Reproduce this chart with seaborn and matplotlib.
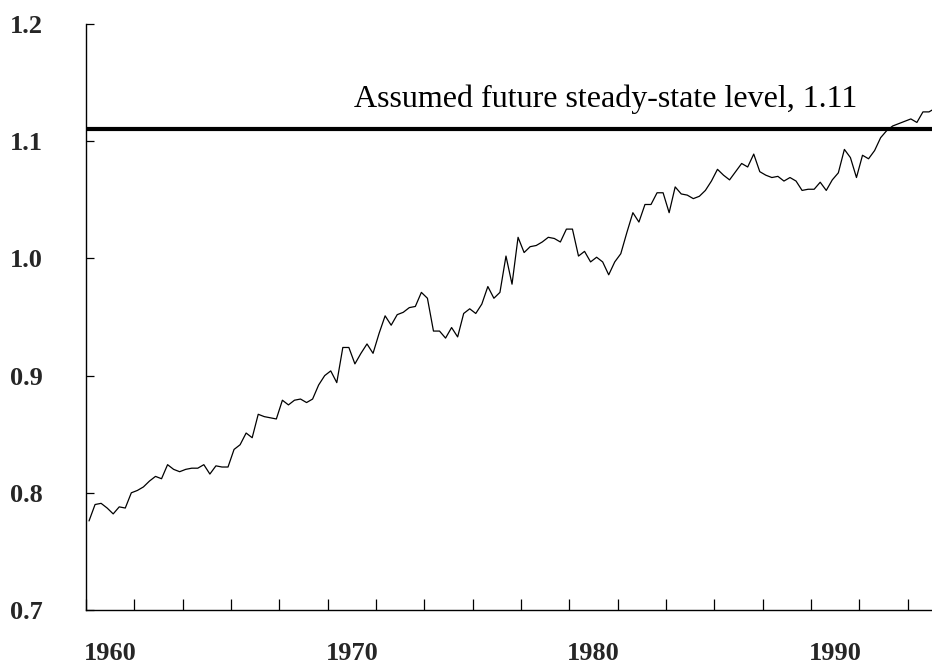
import numpy as np
import pandas as pd
import matplotlib
matplotlib.use("Agg")
import matplotlib.pyplot as plt
import seaborn as sns

# quarterly series, 1960Q1 onwards (last point runs just past the axis end)
start_year = 1960
ratio = [
    0.776, 0.790, 0.791, 0.787, 0.782, 0.788, 0.787, 0.800,
    0.802, 0.805, 0.810, 0.814, 0.812, 0.824, 0.820, 0.818,
    0.820, 0.821, 0.821, 0.824, 0.816, 0.823, 0.822, 0.822,
    0.837, 0.841, 0.851, 0.847, 0.867, 0.865, 0.864, 0.863,
    0.879, 0.875, 0.879, 0.880, 0.877, 0.880, 0.892, 0.900,
    0.904, 0.894, 0.924, 0.924, 0.910, 0.919, 0.927, 0.919,
    0.936, 0.951, 0.943, 0.952, 0.954, 0.958, 0.959, 0.971,
    0.966, 0.938, 0.938, 0.932, 0.941, 0.933, 0.953, 0.957,
    0.953, 0.961, 0.976, 0.966, 0.971, 1.002, 0.978, 1.018,
    1.005, 1.010, 1.011, 1.014, 1.018, 1.017, 1.014, 1.025,
    1.025, 1.002, 1.006, 0.997, 1.001, 0.997, 0.986, 0.997,
    1.004, 1.022, 1.039, 1.031, 1.046, 1.046, 1.056, 1.056,
    1.039, 1.061, 1.055, 1.054, 1.051, 1.053, 1.058, 1.066,
    1.076, 1.071, 1.067, 1.074, 1.081, 1.078, 1.089, 1.074,
    1.071, 1.069, 1.070, 1.066, 1.069, 1.066, 1.058, 1.059,
    1.059, 1.065, 1.058, 1.067, 1.073, 1.093, 1.086, 1.069,
    1.088, 1.085, 1.092, 1.103, 1.109, 1.113, 1.115, 1.117,
    1.119, 1.116, 1.125, 1.125, 1.128,
]
steady_state = 1.11
steady_label = "Assumed future steady-state level, 1.11"

year_labels = ["1960", "1970", "1980", "1990"]
y_ticks = [0.7, 0.8, 0.9, 1.0, 1.1, 1.2]

df = pd.DataFrame({
    "year": start_year + 0.125 + 0.25 * np.arange(len(ratio)),
    "ratio": ratio,
})

sns.set_style("ticks")
plt.rcParams["font.family"] = ["Liberation Serif", "DejaVu Serif"]

fig = plt.figure(figsize=(9.32, 6.65), dpi=100)
ax = fig.add_axes([86 / 932, 55 / 665, 846 / 932, 586 / 665])

sns.lineplot(data=df, x="year", y="ratio", ax=ax, color="black", linewidth=0.9)
ax.axhline(steady_state, color="black", linewidth=3.0)
ax.text(1991.9, 1.1292, steady_label, ha="right", va="baseline",
        fontsize=23, color="black")

ax.set_xlim(1960, 1995)
ax.set_ylim(0.7, 1.2)

# tick marks every two years, labels sit between marks
ax.set_xticks(np.arange(1960, 1995, 2))
ax.set_xticklabels([])
ax.set_xticks([int(y) + 1 for y in year_labels], labels=year_labels, minor=True)
ax.tick_params(axis="x", which="major", direction="in", length=8, width=0.9,
               color="black")
ax.tick_params(axis="x", which="minor", length=0, pad=23, labelsize=19)

ax.set_yticks(y_ticks, labels=[f"{v:.1f}" for v in y_ticks])
ax.tick_params(axis="y", direction="in", length=6, width=0.9, pad=31,
               labelsize=19, color="black")

for lab in ax.get_xticklabels(minor=True) + ax.get_yticklabels():
    lab.set_fontweight("bold")

ax.set_xlabel("")
ax.set_ylabel("")
sns.despine(ax=ax)
for side in ["left", "bottom"]:
    ax.spines[side].set_linewidth(1.0)
    ax.spines[side].set_color("black")

fig.savefig("out.png", dpi=100)
